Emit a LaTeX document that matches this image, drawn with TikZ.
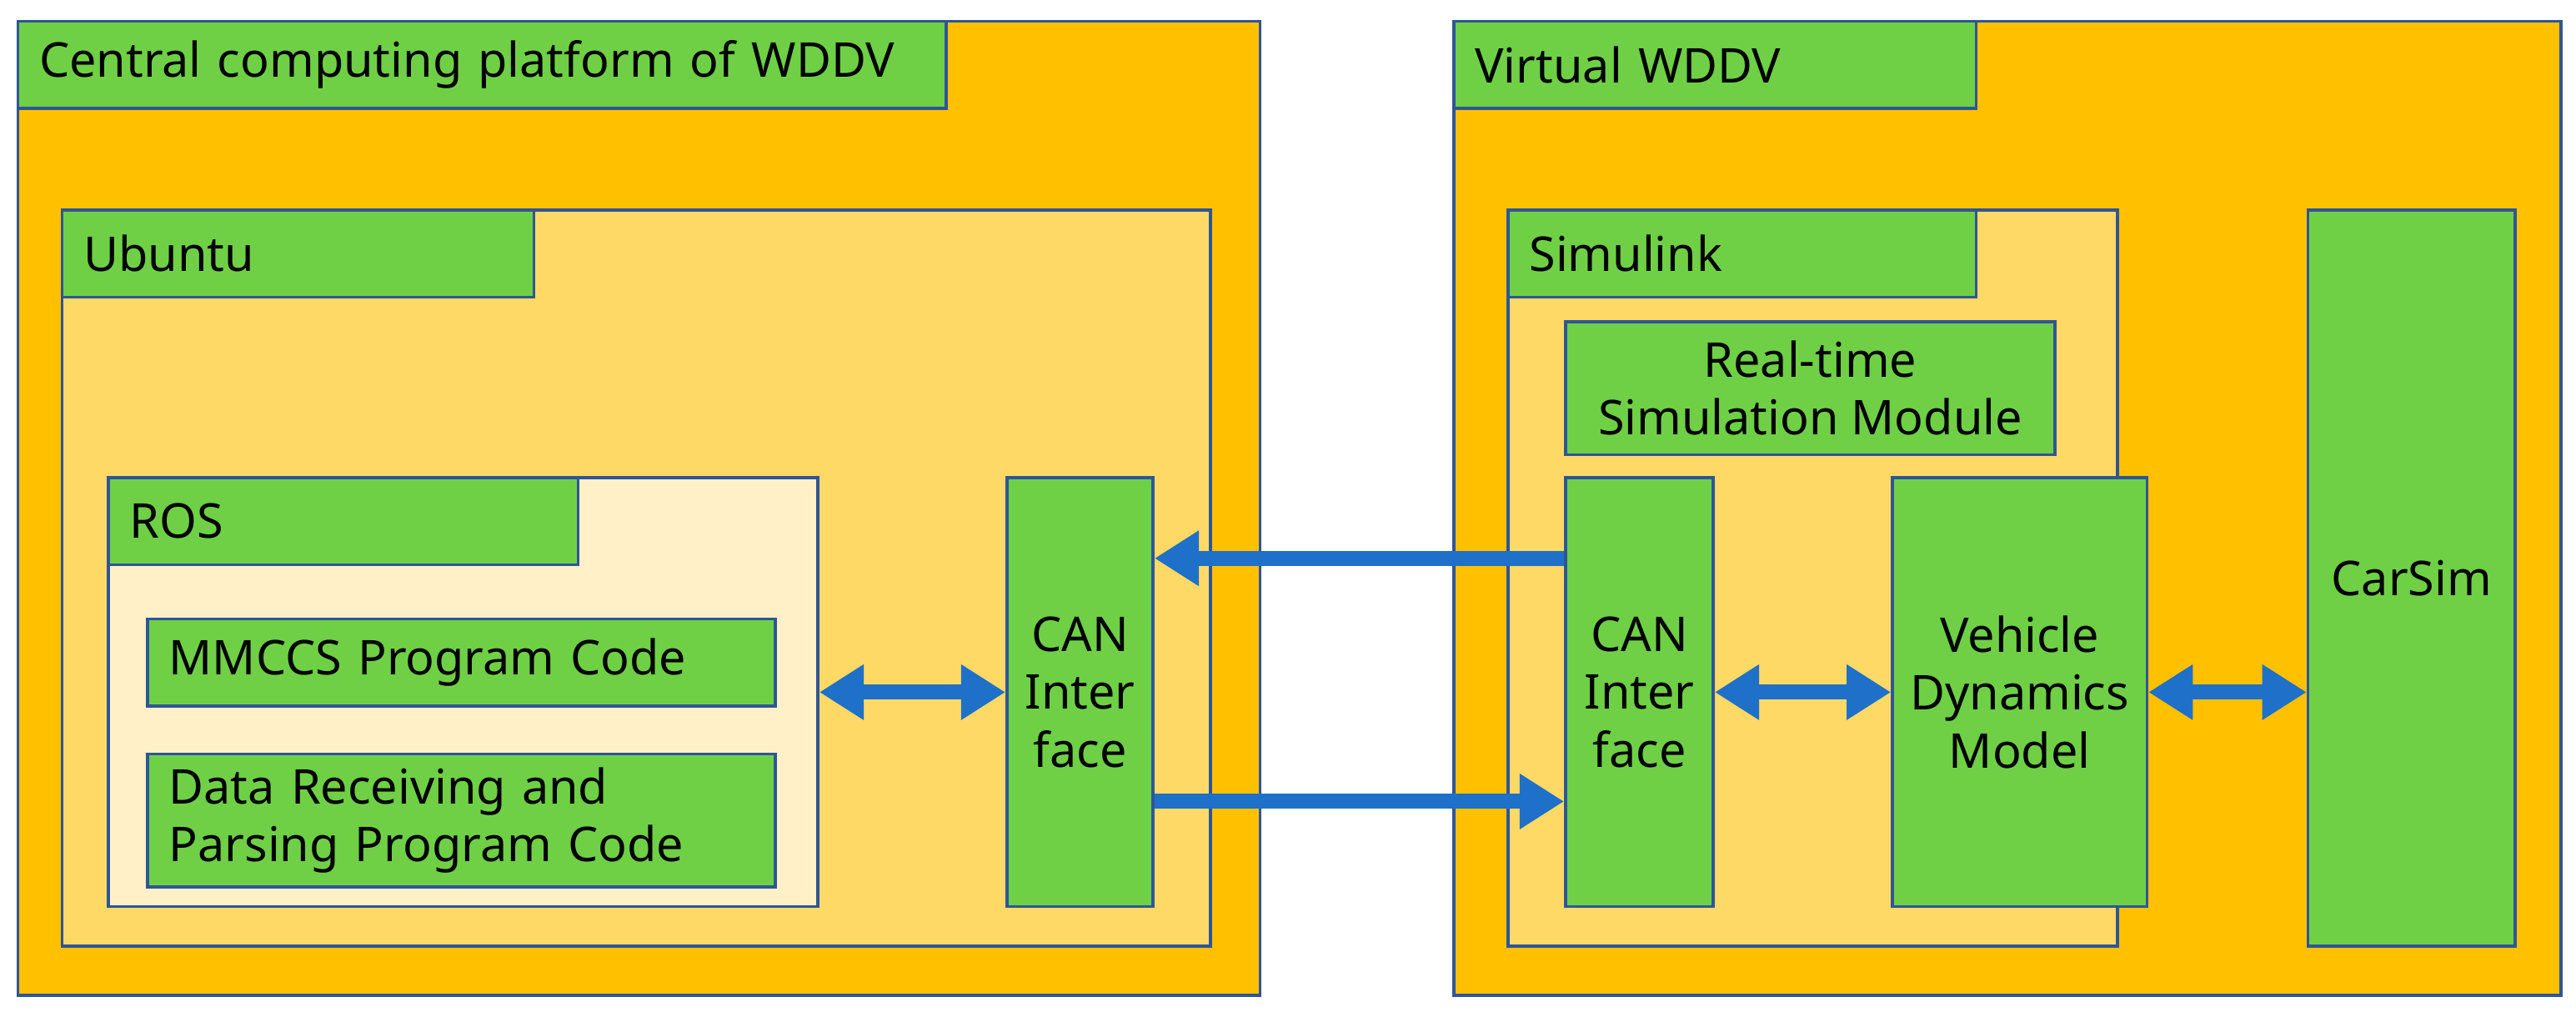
\documentclass[tikz,border=0pt]{standalone}
\usepackage{fontspec}
\setmainfont{Noto Sans}
\usetikzlibrary{arrows.meta}
\definecolor{outerc}{HTML}{FFC000}
\definecolor{innerc}{HTML}{FFD966}
\definecolor{rosc}{HTML}{FFF0C8}
\definecolor{boxc}{HTML}{6FD046}
\definecolor{edgec}{HTML}{2F5597}
\definecolor{arrc}{HTML}{1F70C8}
\tikzset{
  blk/.style={draw=edgec, line width=0.5pt, anchor=north west, inner sep=0pt},
  ttl/.style={blk, fill=boxc, align=left, text width=#1, inner xsep=0.13cm},
  arr/.style={draw=arrc, line width=2.6pt, -{Triangle[length=0.27cm,width=0.32cm]}},
  darr/.style={arr, {Triangle[length=0.27cm,width=0.32cm]}-{Triangle[length=0.27cm,width=0.32cm]}}
}
\begin{document}
\fontsize{8.3}{10}\selectfont
\begin{tikzpicture}
  \useasboundingbox (0,0) rectangle (15.68,-6.19);
  % central computing platform
  \node[blk, fill=outerc, minimum width=7.56cm, minimum height=5.93cm] (cpf) at (0.10,-0.12) {};
  \node[ttl=5.39cm, minimum height=0.53cm] (cpft) at (0.10,-0.12) {Central computing platform of WDDV};
  \node[blk, fill=innerc, minimum width=6.99cm, minimum height=4.48cm] (ubu) at (0.37,-1.27) {};
  \node[ttl=2.61cm, minimum height=0.53cm] (ubut) at (0.37,-1.27) {Ubuntu};
  \node[blk, fill=rosc, minimum width=4.32cm, minimum height=2.61cm] (ros) at (0.65,-2.90) {};
  \node[ttl=2.60cm, minimum height=0.53cm] (rost) at (0.65,-2.90) {ROS};
  \node[ttl=3.56cm, minimum height=0.53cm] (mmccs) at (0.89,-3.76) {MMCCS Program Code};
  \node[ttl=3.56cm, minimum height=0.81cm] (data) at (0.89,-4.58) {Data Receiving and\\Parsing Program Code};
  \node[blk, fill=boxc, minimum width=0.89cm, minimum height=2.61cm, align=center] (canL) at (6.12,-2.90) {CAN\\Inter\\face};
  % virtual WDDV
  \node[blk, fill=outerc, minimum width=6.74cm, minimum height=5.93cm] (vw) at (8.84,-0.12) {};
  \node[ttl=2.92cm, minimum height=0.53cm] (vwt) at (8.84,-0.12) {Virtual WDDV};
  \node[blk, fill=innerc, minimum width=3.71cm, minimum height=4.48cm] (sim) at (9.17,-1.27) {};
  \node[ttl=2.59cm, minimum height=0.53cm] (simt) at (9.17,-1.27) {Simulink};
  \node[blk, fill=boxc, minimum width=2.98cm, minimum height=0.81cm, align=center] (rt) at (9.52,-1.95) {Real-time\\Simulation Module};
  \node[blk, fill=boxc, minimum width=0.90cm, minimum height=2.61cm, align=center] (canR) at (9.52,-2.90) {CAN\\Inter\\face};
  \node[blk, fill=boxc, minimum width=1.55cm, minimum height=2.61cm, align=center] (veh) at (11.51,-2.90) {Vehicle\\Dynamics\\Model};
  \node[blk, fill=boxc, minimum width=1.26cm, minimum height=4.48cm] (car) at (14.04,-1.27) {CarSim};
  % connectors
  \draw[arr] ([yshift=0.815cm]canR.west) -- ([yshift=0.815cm]canL.east);
  \draw[arr] ([yshift=-0.665cm]canL.east) -- ([yshift=-0.665cm]canR.west);
  \draw[darr] (ros.east) -- (canL.west);
  \draw[darr] (canR.east) -- (veh.west);
  \draw[darr] (veh.east) -- (car.west |- veh.east);
\end{tikzpicture}
\end{document}
